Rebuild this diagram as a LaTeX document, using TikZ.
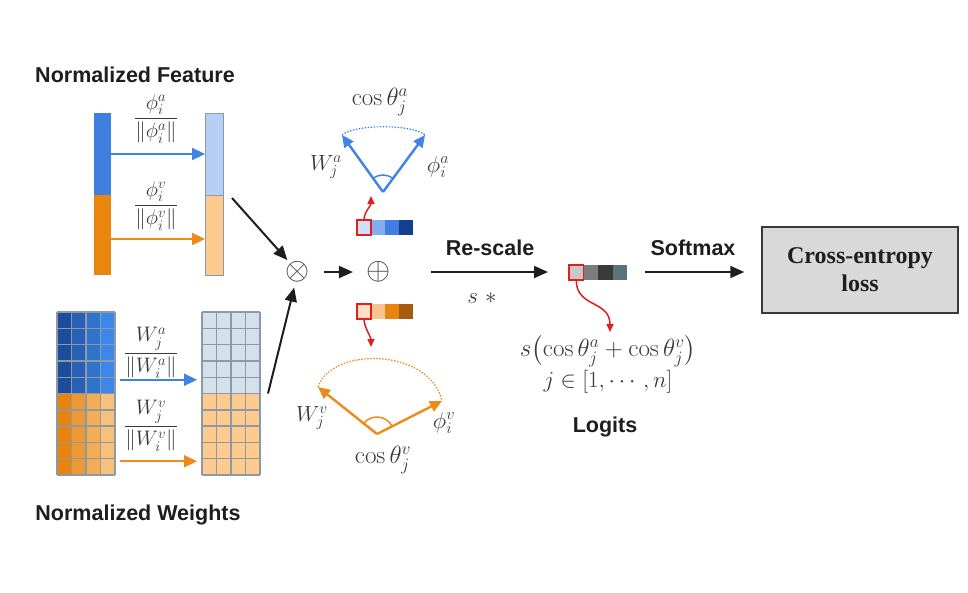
\RequirePackage{fix-cm}
\documentclass[tikz,border=0pt]{standalone}
\usepackage{amsmath,amssymb}
\usepackage{fontspec}
\setsansfont{Liberation Sans}
\newfontfamily\lossfont{Liberation Serif}
\usetikzlibrary{arrows.meta}

\definecolor{txt}{HTML}{1E1E1E}
\definecolor{mtxt}{HTML}{3A3A3A}
\definecolor{fblue}{HTML}{3E7FE0}
\definecolor{forange}{HTML}{EA860E}
\definecolor{fblueL}{HTML}{B7CFF4}
\definecolor{forangeL}{HTML}{FDCB8D}
\definecolor{ablue}{HTML}{3F83E6}
\definecolor{aorange}{HTML}{EC8B1A}
\definecolor{wblueD}{HTML}{1C4C9A}
\definecolor{wblueL}{HTML}{3C88E8}
\definecolor{worD}{HTML}{E8830C}
\definecolor{worL}{HTML}{F8C27A}
\definecolor{wgrayL}{HTML}{D4E0EA}
\definecolor{gridc}{HTML}{8D9AA5}
\definecolor{red1}{HTML}{E0201F}
\definecolor{boxg}{HTML}{D9D9D9}
\definecolor{boxd}{HTML}{3A3A3A}

\begin{document}
\begin{tikzpicture}[x=1pt, y=-1pt,
  headlbl/.style={font=\fontsize{21.5}{25}\selectfont\sffamily\bfseries, text=txt},
  mathlbl/.style={font=\fontsize{21}{25}\selectfont, text=mtxt, inner sep=0pt},
  coslbl/.style={mathlbl, font=\fontsize{25}{29}\selectfont},
  fbar/.style={rectangle, inner sep=0pt, outer sep=0pt, minimum width=17pt, minimum height=82pt},
  wblock/.style={rectangle, inner sep=0pt, outer sep=0pt, minimum width=58pt, minimum height=81.5pt},
  stripcell/.style={rectangle, inner sep=0pt, outer sep=0pt, minimum width=14pt, minimum height=15pt},
  farrow/.style={line width=2.2pt, -{Triangle[length=13pt,width=12pt]}},
  karrow/.style={line width=2pt, draw=txt, -{Triangle[length=14pt,width=12pt]}},
  aarm/.style={line width=2.4pt, -{Triangle[length=12pt,width=11pt]}},
  rarrow/.style={line width=1.5pt, draw=red1, -{Triangle[length=8pt,width=7pt]}},
  opnode/.style={circle, font=\fontsize{31}{31}\selectfont, text=mtxt, inner sep=0pt},
  lossbox/.style={rectangle, font=\fontsize{24}{30}\selectfont\lossfont\bfseries, text=txt,
    align=center, minimum width=196pt, minimum height=86pt, fill=boxg, draw=boxd, line width=1.5pt},
]
\useasboundingbox[fill=white] (0,0) rectangle (968,592);

% normalized feature
\node[headlbl] (hfeat) at (135,75) {Normalized Feature};
\node[fbar, fill=fblue] (faL) at (102.5,154) {};
\node[fbar, fill=forange, minimum height=80pt] (fvL) at (102.5,235) {};
\node[fbar, fill=fblueL, draw=gridc, line width=0.8pt, minimum width=18pt] (faR) at (214,154) {};
\node[fbar, fill=forangeL, draw=gridc, line width=0.8pt, minimum width=18pt, minimum height=80pt] (fvR) at (214,235) {};
\draw[farrow, draw=ablue] (faL.east) -- (faR.west);
\draw[farrow, draw=aorange] ([yshift=-4pt]fvL.east) -- ([yshift=-4pt]fvR.west);
\node[mathlbl] (fra) at (156,119) {$\dfrac{\phi_i^a}{\lVert\phi_i^a\rVert}$};
\node[mathlbl] (frv) at (156,206) {$\dfrac{\phi_i^v}{\lVert\phi_i^v\rVert}$};

% normalized weights
\node[headlbl] (hweight) at (138,515) {Normalized Weights};
\node[wblock] (waL) at (86,352.75) {};
\node[wblock] (wvL) at (86,434.25) {};
\node[wblock, fill=wgrayL] (waR) at (231,352.75) {};
\node[wblock, fill=forangeL] (wvR) at (231,434.25) {};
\foreach \c in {0,...,3}{
  \pgfmathtruncatemacro\p{100-\c*33}
  \fill[wblueD!\p!wblueL] (57+\c*14.5,312) rectangle ++(14.5,81.5);
  \fill[worD!\p!worL] (57+\c*14.5,393.5) rectangle ++(14.5,81.5);
}
\foreach \x in {57,202}{
  \foreach \c in {0,...,4}
    \draw[gridc, line width=1.4pt] (\x+\c*14.5,312) -- (\x+\c*14.5,475);
  \foreach \r in {0,...,10}
    \draw[gridc, line width=1.4pt] (\x,312+\r*16.3) -- (\x+58,312+\r*16.3);
}
\draw[farrow, draw=ablue] ([xshift=5pt,yshift=-27pt]waL.east) -- ([xshift=-5pt,yshift=-27pt]waR.west);
\draw[farrow, draw=aorange] ([xshift=5pt,yshift=-27pt]wvL.east) -- ([xshift=-5pt,yshift=-27pt]wvR.west);
\node[mathlbl] (fwa) at (151,353) {$\dfrac{W_j^a}{\lVert W_i^a\rVert}$};
\node[mathlbl] (fwv) at (151,426) {$\dfrac{W_j^v}{\lVert W_i^v\rVert}$};

% combine
\node[opnode] (ot) at (298,272) {$\otimes$};
\node[opnode] (op) at (379,272) {$\oplus$};
\draw[karrow] ([xshift=9pt,yshift=-3pt]faR.south east) -- (ot);
\draw[karrow] ([xshift=8pt]wvR.north east) -- (ot);
\draw[karrow, shorten <=10pt, shorten >=10pt] (ot) -- (op);

% cosine strips
\foreach \col [count=\i from 0] in {D0DEFA,85AEF0,3F7FE3,133F93}{
  \definecolor{cellc}{HTML}{\col}
  \node[stripcell, fill=cellc] (sa\i) at (364+14*\i,227.5) {};
}
\foreach \col [count=\i from 0] in {FDE0C4,F7C68E,E88512,A45C10}{
  \definecolor{cellc}{HTML}{\col}
  \node[stripcell, fill=cellc] (sv\i) at (364+14*\i,311.5) {};
}
\node[stripcell, draw=red1, line width=1.5pt] at (sa0) {};
\node[stripcell, draw=red1, line width=1.5pt] at (sv0) {};
\coordinate (ta) at (371,196);
\coordinate (tv) at (371,347);
\draw[rarrow] (sa0.north) .. controls +(0,-8) and +(0,10) .. (ta);
\draw[rarrow] (sv0.south) .. controls +(0,8) and +(0,-10) .. (tv);

% audio angle
\coordinate (oa) at (383,192);
\coordinate (wa) at (342,135);
\coordinate (pa) at (425,135);
\draw[aarm, draw=ablue] (oa) -- (wa);
\draw[aarm, draw=ablue] (oa) -- (pa);
\draw[ablue, line width=1.2pt, dash pattern=on 1.5pt off 1.5pt] (wa) .. controls (355,124) and (412,124) .. (pa);
\draw[ablue, line width=1.5pt] ([shift={(-54:17)}]oa) arc[start angle=-54, end angle=-126, radius=17];
\node[coslbl] (cwa) at (380,102) {$\cos\theta_j^a$};
\node[mathlbl, font=\fontsize{22}{26}\selectfont] (lwa) at (326,167) {$W_j^a$};
\node[mathlbl, font=\fontsize{23}{26}\selectfont] (lpa) at (438,167) {$\phi_i^a$};

% visual angle
\coordinate (ov) at (377,434);
\coordinate (wv) at (318,387);
\coordinate (pv) at (442,401);
\draw[aarm, draw=aorange] (ov) -- (wv);
\draw[aarm, draw=aorange] (ov) -- (pv);
\draw[aorange, line width=1.2pt, dash pattern=on 1.5pt off 1.5pt] (wv) .. controls (332,346) and (430,348) .. (pv);
\draw[aorange, line width=1.5pt] ([shift={(-27:17)}]ov) arc[start angle=-27, end angle=-141, radius=17];
\node[coslbl] (cwv) at (383,460) {$\cos\theta_j^v$};
\node[mathlbl, font=\fontsize{22}{26}\selectfont] (lwv) at (312,418) {$W_j^v$};
\node[mathlbl, font=\fontsize{23}{26}\selectfont] (lpv) at (444,423) {$\phi_i^v$};

% logits
\foreach \col [count=\i from 0] in {C9C9C9,7D7D7D,3A3A3A,5B737B}{
  \definecolor{cellc}{HTML}{\col}
  \node[stripcell, fill=cellc, minimum width=14.5pt] (lg\i) at (576.25+14.5*\i,272.5) {};
}
\node[stripcell, minimum width=14.5pt, draw=red1, line width=1.5pt] at (lg0) {};
\coordinate (tl) at (610,332);
\draw[rarrow] (lg0.south) .. controls +(0,28) and +(0,-32) .. (tl);
\draw[karrow, shorten <=36pt, shorten >=21pt] (op) -- (op -| lg0.west);
\node[headlbl] (rescale) at (490,248) {Re-scale};
\node[mathlbl, font=\fontsize{23}{26}\selectfont] (sstar) at (482,298) {$s\ *$};
\node[mathlbl, font=\fontsize{25}{29}\selectfont] (lf1) at (608,351) {$s\bigl(\cos\theta_j^a+\cos\theta_j^v\bigr)$};
\node[mathlbl, font=\fontsize{23}{27}\selectfont] (lf2) at (608,382) {$j\in[1,\cdots,n]$};
\node[headlbl] (logits) at (605,427) {Logits};

% loss
\node[lossbox] (loss) at (860,270) {Cross-entropy\\[-2pt]loss};
\draw[karrow, shorten <=18pt, shorten >=17pt] (op -| lg3.east) -- (op -| loss.west);
\node[headlbl] (softmax) at (693,248) {Softmax};
\end{tikzpicture}
\end{document}
